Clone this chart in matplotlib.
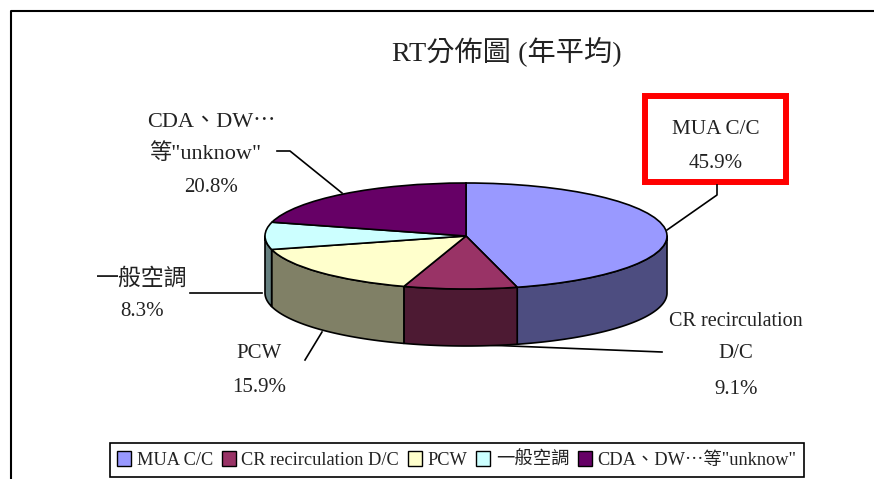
#!/usr/bin/env python3
import matplotlib
matplotlib.use("Agg")
import matplotlib.pyplot as plt
import numpy as np
from matplotlib.patches import Patch, Rectangle

W, H = 874, 479

categories = ["MUA C/C", "CR recirculation D/C", "PCW", "一般空調", 'CDA、DW⋯等"unknow"']
values = [45.9, 9.1, 15.9, 8.3, 20.8]
colors = ["#9999FF", "#993366", "#FFFFCC", "#CCFFFF", "#660066"]
side_colors = ["#4D4D80", "#4D1A33", "#808066", "#668080", "#330033"]

plt.rcParams["font.family"] = ["Liberation Serif", "Noto Sans CJK TC", "DejaVu Sans"]

# pie geometry in pixels
cx, cy, rx, ry, depth = 466, 236, 201, 53, 57
text_color = "#222222"
lw = 1.2

fig = plt.figure(figsize=(W / 100, H / 100), dpi=100, facecolor="white")

# overlay in pixel coordinates for frame, leaders and labels
ov = fig.add_axes([0, 0, 1, 1])
ov.set_xlim(0, W)
ov.set_ylim(H, 0)
ov.axis("off")
ov.plot([11, 11, W + 5], [H + 5, 11, 11], color="k", lw=1.5)
ov.text(507, 51, "RT分佈圖 (年平均)", ha="center", va="center", fontsize=20.3, color=text_color)

# pie top, squashed by letting the axes be non-equal
ax = fig.add_axes([(cx - rx) / W, 1 - (cy + ry) / H, 2 * rx / W, 2 * ry / H], zorder=2)
ax.patch.set_alpha(0)
d = depth / ry

# side walls, only the front half (180..360 deg) can be seen
fractions = np.array(values) / sum(values)
ends = 90 - 360 * np.cumsum(fractions)
spans = 360 * fractions
for a1, span, c in zip(ends, spans, side_colors):
    lo = max(a1 % 360, 180)
    hi = min(a1 % 360 + span, 360)
    if hi <= lo:
        continue
    t = np.radians(np.linspace(lo, hi, 80))
    xs = np.cos(t)
    ys = np.sin(t)
    ax.fill(np.r_[xs, xs[::-1]], np.r_[ys, ys[::-1] - d], facecolor=c, edgecolor="k",
            lw=lw, clip_on=False, joinstyle="round")

ax.pie(values, colors=colors, startangle=90, counterclock=False, radius=1,
       wedgeprops=dict(edgecolor="k", linewidth=lw, clip_on=False))
ax.set_aspect("auto")
ax.set_xlim(-1, 1)
ax.set_ylim(-1, 1)
ax.axis("off")

# leader lines
ov.plot([717, 717, 667], [185, 195, 230], color="k", lw=lw)
ov.plot([662, 460], [352, 344], color="k", lw=lw)
ov.plot([322, 305], [332, 360], color="k", lw=lw)
ov.plot([190, 262], [293, 293], color="k", lw=lw)
ov.plot([277, 290, 342], [151, 151, 193], color="k", lw=lw)

# red highlight round the MUA label
ov.add_patch(Rectangle((645, 96), 141, 86, fill=False, edgecolor="#FF0000", lw=4.3, joinstyle="miter"))

# label lines placed one by one, CJK glyphs run wider than the latin ones in the original
label_lines = [
    (716, 130, "MUA C/C", 15.2),
    (736, 322, "CR recirculation", 14.5),
    (736, 354, "D/C", 15),
    (259, 354, "PCW", 15),
    (142, 279, "一般空調", 16.5),
    (211, 122, "CDA、DW⋯", 16),
    (205, 154, '等"unknow"', 16),
]
pct_pos = [(716, 164), (736, 389), (259, 388), (142, 312), (211, 188)]
for x, y, s, fs in label_lines:
    ov.text(x, y, s, ha="center", va="center", fontsize=fs, color=text_color)
for (x, y), v in zip(pct_pos, values):
    ov.text(x, y, f"{v:.1f}%", ha="center", va="center", fontsize=15, color=text_color)

# legend
handles = [Patch(facecolor=c, edgecolor="k", linewidth=1.0) for c in colors]
leg = fig.legend(handles, categories, ncol=5, loc="center", bbox_to_anchor=(457 / W, 1 - 460 / H),
                 fontsize=13.2, frameon=True, fancybox=False, edgecolor="k", framealpha=1,
                 handlelength=0.75, handleheight=0.85, handletextpad=0.3, columnspacing=0.5,
                 borderpad=0.42, labelcolor=text_color)
leg.get_frame().set_linewidth(1.2)

fig.savefig("out.png", dpi=100)
